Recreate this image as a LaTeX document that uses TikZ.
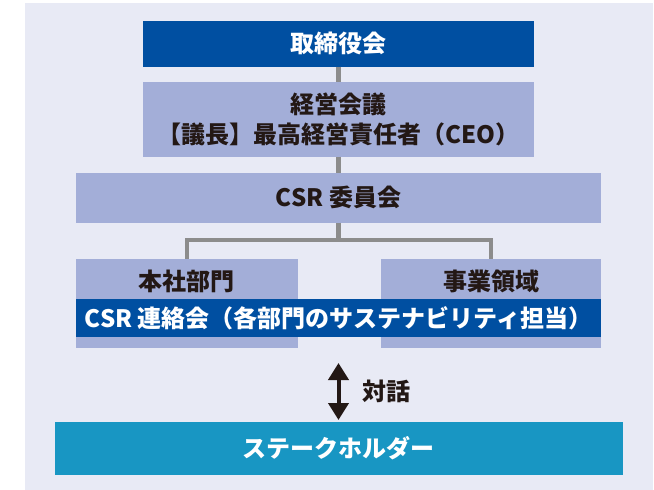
\documentclass[tikz,border=0pt]{standalone}
\usepackage{fontspec}
\setmainfont{Noto Sans CJK JP}
\usetikzlibrary{arrows.meta}
\definecolor{bgc}{HTML}{E8EAF5}
\definecolor{dblue}{HTML}{004FA1}
\definecolor{lblue}{HTML}{A3AED8}
\definecolor{teal}{HTML}{1896C3}
\definecolor{lgray}{HTML}{8C8C8C}
\definecolor{ink}{HTML}{231815}
\tikzset{
  box/.style={draw=none, inner sep=0pt, outer sep=0pt, anchor=center,
    font=\fontsize{24}{30}\selectfont\bfseries, align=center},
  lightbox/.style={box, fill=lblue, text=ink},
  darkbox/.style={box, fill=dblue, text=white},
  tealbox/.style={box, fill=teal, text=white},
  conn/.style={draw=lgray, line width=4.5pt},
  dialog/.style={draw=ink, line width=4pt,
    {Triangle[width=20pt,length=17pt]}-{Triangle[width=20pt,length=17pt]}},
  lbl/.style={font=\fontsize{24}{30}\selectfont\bfseries, text=ink, inner sep=0pt, anchor=center}
}
\begin{document}
\begin{tikzpicture}[x=1pt,y=-1pt]
\useasboundingbox (0,0) rectangle (654,490);
\fill[bgc] (25,3) rectangle (653,490);
% boxes
\node[darkbox, minimum width=391pt, minimum height=45.7pt] (board) at (338.5,43.85) {取締役会};
\node[lightbox, minimum width=391pt, minimum height=75pt] (mgmt) at (338.5,119.2) {経営会議\\【議長】最高経営責任者（CEO）};
\node[lightbox, minimum width=525pt, minimum height=49.7pt] (csr) at (338.5,197.85) {CSR 委員会};
\node[lightbox, minimum width=221.7pt, minimum height=88.7pt] (honsha) at (186.85,303.35) {};
\node[lightbox, minimum width=220pt, minimum height=88.7pt] (jigyo) at (491,303.35) {};
\node[lbl] (honshat) at (186.85,281) {本社部門};
\node[lbl] (jigyot) at (491,281) {事業領域};
\node[darkbox, minimum width=525pt, minimum height=37.7pt] (band) at (338.5,317.85) {CSR 連絡会（各部門のサステナビリティ担当）};
\node[tealbox, minimum width=567.7pt, minimum height=53pt] (stake) at (338.85,448.5) {ステークホルダー};
% connectors
\draw[conn] (board.south) -- (mgmt.north);
\draw[conn] (mgmt.south) -- (csr.north);
\coordinate (split) at (338.5,240);
\draw[conn] (csr.south) -- (split);
\draw[conn] (honsha.north) |- (split) -| (jigyo.north);
% dialog arrow
\coordinate (atop) at (338.5,363);
\coordinate (abot) at (338.5,420);
\draw[dialog] (atop) -- (abot);
\node[lbl, anchor=west] (talk) at (362,391.5) {対話};
\end{tikzpicture}
\end{document}
